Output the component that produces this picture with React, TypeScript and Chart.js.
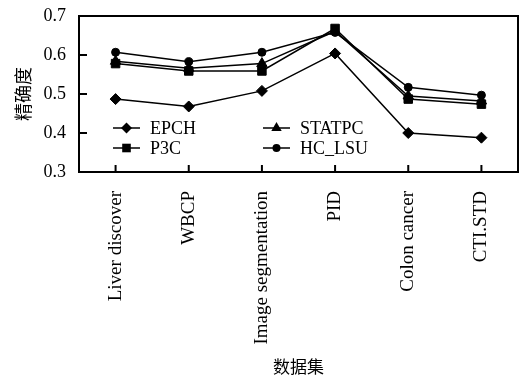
import React, { useEffect, useRef } from "react";
import { Chart, registerables } from "chart.js";

Chart.register(...registerables);

const categories = ["Liver discover", "WBCP", "Image segmentation", "PID", "Colon cancer", "CTI.STD"];
const epch = [0.487, 0.468, 0.508, 0.604, 0.4, 0.388];
const p3c = [0.578, 0.559, 0.559, 0.668, 0.487, 0.474];
const statpc = [0.584, 0.566, 0.578, 0.661, 0.495, 0.482];
const hcLsu = [0.607, 0.583, 0.607, 0.658, 0.517, 0.497];
const seriesNames = ["EPCH", "P3C", "STATPC", "HC_LSU"];
const yTicks = [0.3, 0.4, 0.5, 0.6, 0.7];

const SERIF = "'Liberation Serif', 'DejaVu Serif', serif";
const CJK = "'Noto Sans CJK SC', sans-serif";

function drawMarker(ctx: CanvasRenderingContext2D, style: string, x: number, y: number) {
  ctx.beginPath();
  if (style === "rectRot") {
    const r = 5.5;
    ctx.moveTo(x - r, y);
    ctx.lineTo(x, y - r);
    ctx.lineTo(x + r, y);
    ctx.lineTo(x, y + r);
    ctx.closePath();
  } else if (style === "rect") {
    const s = 4.3;
    ctx.rect(x - s, y - s, 2 * s, 2 * s);
  } else if (style === "triangle") {
    const r = 6;
    ctx.moveTo(x, y - r);
    ctx.lineTo(x + r * 0.866, y + r * 0.5);
    ctx.lineTo(x - r * 0.866, y + r * 0.5);
    ctx.closePath();
  } else {
    ctx.arc(x, y, 4, 0, Math.PI * 2);
  }
  ctx.fill();
}

const framePlugin = {
  id: "frame",
  afterDatasetsDraw(chart: any) {
    const { ctx, chartArea } = chart;
    const { left, right, top, bottom } = chartArea;
    ctx.save();
    ctx.strokeStyle = "#000";
    ctx.lineWidth = 2;
    ctx.strokeRect(left, top, right - left, bottom - top);
    const xs = chart.scales.x;
    const ys = chart.scales.y;
    ctx.beginPath();
    for (let i = 0; i < categories.length; i++) {
      const px = xs.getPixelForValue(i);
      ctx.moveTo(px, bottom);
      ctx.lineTo(px, bottom - 7);
    }
    for (const v of yTicks) {
      if (v === yTicks[0] || v === yTicks[yTicks.length - 1]) continue;
      const py = ys.getPixelForValue(v);
      ctx.moveTo(left, py);
      ctx.lineTo(left + 8, py);
    }
    ctx.stroke();

    const order = [0, 2, 1, 3];
    const styles = ["rectRot", "rect", "triangle", "circle"];
    ctx.fillStyle = "#000";
    ctx.font = "18px " + SERIF;
    ctx.textBaseline = "middle";
    ctx.textAlign = "left";
    order.forEach((di, k) => {
      const col = k % 2;
      const row = Math.floor(k / 2);
      const x0 = left + 34 + col * 150;
      const y0 = top + 112 + row * 20;
      ctx.lineWidth = 1.5;
      ctx.beginPath();
      ctx.moveTo(x0, y0);
      ctx.lineTo(x0 + 27, y0);
      ctx.stroke();
      drawMarker(ctx, styles[di], x0 + 13.5, y0);
      ctx.fillText(seriesNames[di], x0 + 37, y0 + 1);
    });
    ctx.restore();
  },
};

export default function App() {
  const ref = useRef<HTMLCanvasElement | null>(null);
  useEffect(() => {
    if (!ref.current) return;
    const mk = (label: string, data: number[], style: string, radius: number) => ({
      label,
      data,
      borderColor: "#000",
      backgroundColor: "#000",
      borderWidth: 1.5,
      pointStyle: style,
      pointRadius: radius,
      pointBackgroundColor: "#000",
      pointBorderColor: "#000",
      pointBorderWidth: 1,
      tension: 0,
    });
    const chart = new Chart(ref.current, {
      type: "line",
      data: {
        labels: categories,
        datasets: [
          mk(seriesNames[0], epch, "rectRot", 5.5),
          mk(seriesNames[1], p3c, "rect", 6),
          mk(seriesNames[2], statpc, "triangle", 6),
          mk(seriesNames[3], hcLsu, "circle", 4),
        ],
      },
      options: {
        animation: false,
        responsive: false,
        devicePixelRatio: 1,
        layout: { padding: { top: 16, right: 10, bottom: 4, left: 0 } },
        plugins: { legend: { display: false }, tooltip: { enabled: false } },
        scales: {
          x: {
            offset: true,
            grid: { display: false, drawTicks: false },
            border: { display: false },
            ticks: {
              color: "#000",
              font: { family: SERIF, size: 19 },
              minRotation: 90,
              maxRotation: 90,
              padding: 19,
              autoSkip: false,
            },
            title: {
              display: true,
              text: "数据集",
              color: "#000",
              font: { family: CJK, size: 17 },
              padding: { top: 0, bottom: 0 },
            },
            afterFit(scale: any) {
              scale.height = 205;
              scale.paddingLeft = 0;
              scale.paddingRight = 0;
            },
          },
          y: {
            min: 0.3,
            max: 0.7,
            grid: { display: false, drawTicks: false },
            border: { display: false },
            ticks: {
              stepSize: 0.1,
              color: "#000",
              font: { family: SERIF, size: 18 },
              padding: 13,
              callback: (v: any) => Number(v).toFixed(1),
            },
            title: {
              display: true,
              text: "精确度",
              color: "#000",
              font: { family: CJK, size: 18 },
              padding: { top: 12, bottom: 0 },
            },
            afterFit(scale: any) {
              scale.width = 79;
              scale.paddingTop = 0;
              scale.paddingBottom = 0;
            },
          },
        },
      },
      plugins: [framePlugin],
    });
    return () => chart.destroy();
  }, []);
  return (
    <div style={{ position: "absolute", left: 0, top: 0, width: 528, height: 381, background: "#fff" }}>
      <canvas ref={ref} width={528} height={381} style={{ width: 528, height: 381 }} />
    </div>
  );
}
